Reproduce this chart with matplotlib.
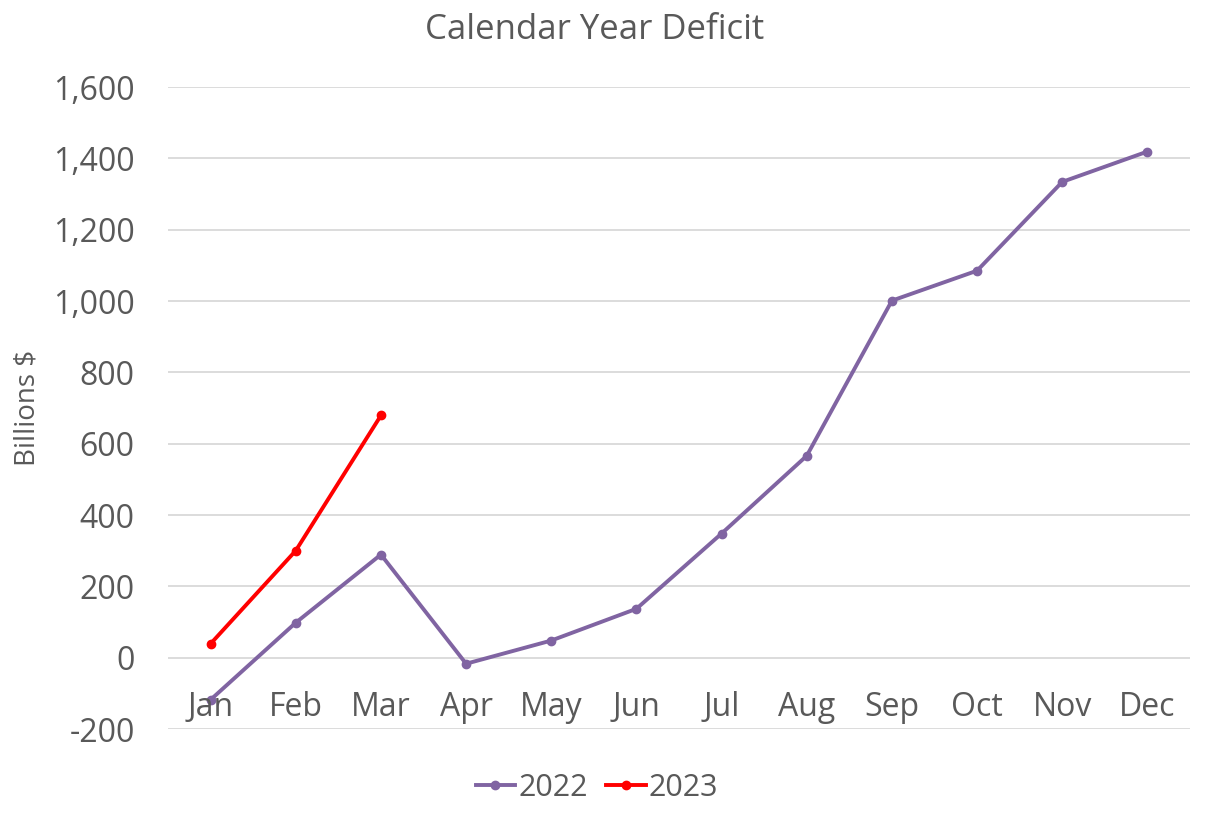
import numpy as np
import matplotlib.pyplot as plt

months = ["Jan", "Feb", "Mar", "Apr", "May", "Jun", "Jul", "Aug", "Sep", "Oct", "Nov", "Dec"]
deficit_2022 = [-118, 98, 289, -17, 48, 137, 348, 566, 1001, 1085, 1334, 1419]
deficit_2023 = [39, 300, 679]
yticks = [-200, 0, 200, 400, 600, 800, 1000, 1200, 1400, 1600]

grey = "#595959"
plt.rcParams["font.family"] = ["Open Sans", "DejaVu Sans"]

fig = plt.figure(figsize=(12.07, 8.25), dpi=100)
ax = fig.add_axes([168 / 1207, 1 - 729 / 825, (1190 - 168) / 1207, (729 - 87) / 825])

x = np.arange(len(months))
ax.plot(x, deficit_2022, color="#8064a2", lw=2.8, marker="o", ms=6, label="2022", zorder=3)
ax.plot(x[:len(deficit_2023)], deficit_2023, color="#ff0000", lw=2.8, marker="o", ms=6,
        label="2023", zorder=4)

ax.set_xlim(-0.5, 11.5)
ax.set_ylim(-200, 1600)
ax.set_yticks(yticks)
ax.set_yticklabels([f"{v:,}" for v in yticks], fontsize=23, color=grey)
ax.tick_params(axis="y", length=0, pad=24)
ax.set_xticks([])
for s in ax.spines.values():
    s.set_visible(False)
ax.grid(axis="y", color="#d9d9d9", lw=1.3)
ax.set_axisbelow(True)

for i, m in enumerate(months):
    ax.annotate(m, (i, 0), xytext=(0, -36), textcoords="offset points",
                ha="center", va="center", fontsize=23, color=grey)

fig.text(0.493, 1 - 30 / 825, "Calendar Year Deficit", ha="center", va="center",
         fontsize=25, color=grey)
fig.text(27 / 1207, 1 - 408 / 825, "Billions $", ha="center", va="center",
         rotation=90, fontsize=20, color=grey)

fig.legend(loc="center", bbox_to_anchor=(597 / 1207, 1 - 788 / 825), ncol=2,
           frameon=False, fontsize=22, labelcolor=grey, handlelength=1.3,
           handletextpad=0.1, columnspacing=0.6)

fig.savefig("out.png", dpi=100)
